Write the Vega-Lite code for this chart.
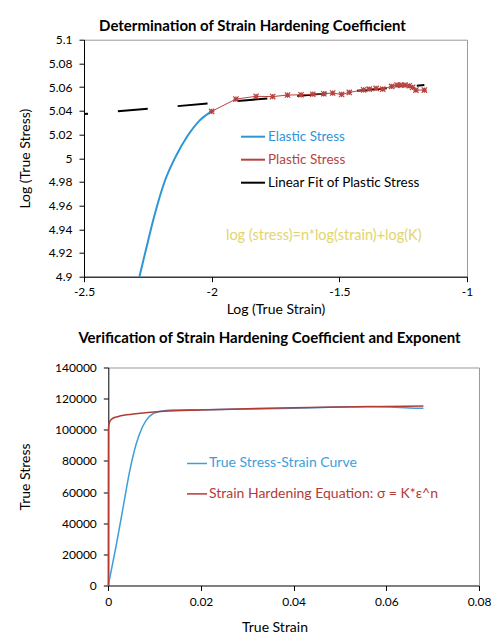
{
  "$schema": "https://vega.github.io/schema/vega-lite/v6.json",
  "background": "white",
  "padding": {"left": 17, "top": 17.7, "right": 0, "bottom": 0},
  "spacing": 13.8,
  "resolve": {"scale": {"color": "independent"}, "legend": {"color": "independent"}},
  "config": {
    "font": "Lato",
    "view": {"stroke": "#9a9a9a", "strokeWidth": 1},
    "axis": {"grid": false, "domainColor": "#000", "tickColor": "#000", "tickSize": 5, "labelFontSize": 12, "titleFontSize": 14, "titleFontWeight": "normal", "labelColor": "#000", "titleColor": "#000", "labelFont": "Lato", "titleFont": "Lato", "labelOverlap": false, "labelFlush": false},
    "title": {"font": "Lato", "fontSize": 15, "fontWeight": "bold", "color": "#000"}
  },
  "datasets": {
    "elastic": [
      {"x": -2.283, "y": 4.9, "series": "Elastic Stress"},
      {"x": -2.2572, "y": 4.923, "series": "Elastic Stress"},
      {"x": -2.2247, "y": 4.9512, "series": "Elastic Stress"},
      {"x": -2.1855, "y": 4.9795, "series": "Elastic Stress"},
      {"x": -2.1397, "y": 5.0019, "series": "Elastic Stress"},
      {"x": -2.094, "y": 5.0189, "series": "Elastic Stress"},
      {"x": -2.0485, "y": 5.0315, "series": "Elastic Stress"},
      {"x": -2.0, "y": 5.0395, "series": "Elastic Stress"}
    ],
    "plastic": [
      {"x": -2.0, "y": 5.0395, "series": "Plastic Stress"},
      {"x": -1.905, "y": 5.0499, "series": "Plastic Stress"},
      {"x": -1.826, "y": 5.0522, "series": "Plastic Stress"},
      {"x": -1.761, "y": 5.052, "series": "Plastic Stress"},
      {"x": -1.703, "y": 5.0533, "series": "Plastic Stress"},
      {"x": -1.65, "y": 5.0535, "series": "Plastic Stress"},
      {"x": -1.604, "y": 5.054, "series": "Plastic Stress"},
      {"x": -1.561, "y": 5.0544, "series": "Plastic Stress"},
      {"x": -1.526, "y": 5.055, "series": "Plastic Stress"},
      {"x": -1.491, "y": 5.0538, "series": "Plastic Stress"},
      {"x": -1.461, "y": 5.0555, "series": "Plastic Stress"},
      {"x": -1.405, "y": 5.0577, "series": "Plastic Stress"},
      {"x": -1.383, "y": 5.0583, "series": "Plastic Stress"},
      {"x": -1.356, "y": 5.0589, "series": "Plastic Stress"},
      {"x": -1.33, "y": 5.0583, "series": "Plastic Stress"},
      {"x": -1.295, "y": 5.0606, "series": "Plastic Stress"},
      {"x": -1.274, "y": 5.0617, "series": "Plastic Stress"},
      {"x": -1.259, "y": 5.0617, "series": "Plastic Stress"},
      {"x": -1.243, "y": 5.0617, "series": "Plastic Stress"},
      {"x": -1.226, "y": 5.0611, "series": "Plastic Stress"},
      {"x": -1.213, "y": 5.0598, "series": "Plastic Stress"},
      {"x": -1.2, "y": 5.0575, "series": "Plastic Stress"},
      {"x": -1.167, "y": 5.0575, "series": "Plastic Stress"}
    ],
    "fit": [
      {"x": -2.5, "y": 5.0372, "series": "Linear Fit of Plastic Stress"},
      {"x": -1.167, "y": 5.0617, "series": "Linear Fit of Plastic Stress"}
    ],
    "note": [
      {"x": -1.561, "y": 4.934, "text": "log (stress)=n*log(strain)+log(K)"}
    ],
    "curve": [
      {"x": 0, "y": 0, "series": "True Stress-Strain Curve"},
      {"x": 0.00166, "y": 25050, "series": "True Stress-Strain Curve"},
      {"x": 0.0031, "y": 48600, "series": "True Stress-Strain Curve"},
      {"x": 0.00453, "y": 72200, "series": "True Stress-Strain Curve"},
      {"x": 0.00597, "y": 90400, "series": "True Stress-Strain Curve"},
      {"x": 0.00741, "y": 102100, "series": "True Stress-Strain Curve"},
      {"x": 0.00884, "y": 108500, "series": "True Stress-Strain Curve"},
      {"x": 0.011, "y": 111800, "series": "True Stress-Strain Curve"},
      {"x": 0.0139, "y": 112700, "series": "True Stress-Strain Curve"},
      {"x": 0.02, "y": 112900, "series": "True Stress-Strain Curve"},
      {"x": 0.03, "y": 113300, "series": "True Stress-Strain Curve"},
      {"x": 0.04, "y": 113900, "series": "True Stress-Strain Curve"},
      {"x": 0.05, "y": 114600, "series": "True Stress-Strain Curve"},
      {"x": 0.056, "y": 115000, "series": "True Stress-Strain Curve"},
      {"x": 0.061, "y": 114700, "series": "True Stress-Strain Curve"},
      {"x": 0.065, "y": 114000, "series": "True Stress-Strain Curve"},
      {"x": 0.068, "y": 113800, "series": "True Stress-Strain Curve"}
    ],
    "equation": [
      {"x": 0, "y": 0, "series": "Strain Hardening Equation: σ = K*ε^n"},
      {"x": 0.00003, "y": 100000, "series": "Strain Hardening Equation: σ = K*ε^n"},
      {"x": 0.0001, "y": 102600, "series": "Strain Hardening Equation: σ = K*ε^n"},
      {"x": 0.0003, "y": 105000, "series": "Strain Hardening Equation: σ = K*ε^n"},
      {"x": 0.0006, "y": 106500, "series": "Strain Hardening Equation: σ = K*ε^n"},
      {"x": 0.001, "y": 107400, "series": "Strain Hardening Equation: σ = K*ε^n"},
      {"x": 0.002, "y": 108400, "series": "Strain Hardening Equation: σ = K*ε^n"},
      {"x": 0.004, "y": 109600, "series": "Strain Hardening Equation: σ = K*ε^n"},
      {"x": 0.008, "y": 111000, "series": "Strain Hardening Equation: σ = K*ε^n"},
      {"x": 0.012, "y": 111900, "series": "Strain Hardening Equation: σ = K*ε^n"},
      {"x": 0.02, "y": 112700, "series": "Strain Hardening Equation: σ = K*ε^n"},
      {"x": 0.03, "y": 113500, "series": "Strain Hardening Equation: σ = K*ε^n"},
      {"x": 0.04, "y": 114100, "series": "Strain Hardening Equation: σ = K*ε^n"},
      {"x": 0.05, "y": 114600, "series": "Strain Hardening Equation: σ = K*ε^n"},
      {"x": 0.06, "y": 114990, "series": "Strain Hardening Equation: σ = K*ε^n"},
      {"x": 0.068, "y": 115260, "series": "Strain Hardening Equation: σ = K*ε^n"}
    ]
  },
  "vconcat": [
    {
      "width": 383,
      "height": 237,
      "title": {"text": "Determination of Strain Hardening Coefficient", "anchor": "middle", "frame": "group", "dx": -23, "offset": 0},
      "layer": [
        {
          "data": {"name": "fit"},
          "mark": {"type": "line", "strokeWidth": 2, "strokeDash": [30, 30], "strokeDashOffset": 26},
          "encoding": {
            "x": {"field": "x", "type": "quantitative", "scale": {"domain": [-2.5, -1], "nice": false}, "axis": {"values": [-2.5, -2, -1.5, -1], "tickCount": 4, "format": "~f", "labelExpr": "replace(datum.label, '−', '-')", "title": "Log (True Strain)", "labelPadding": 5, "titlePadding": 5, "labelOverlap": false, "labelFlush": false}},
            "y": {"field": "y", "type": "quantitative", "scale": {"domain": [4.9, 5.1], "nice": false, "zero": false}, "axis": {"values": [4.9, 4.92, 4.94, 4.96, 4.98, 5, 5.02, 5.04, 5.06, 5.08, 5.1], "tickCount": 11, "format": "~f", "title": "Log (True Stress)", "labelPadding": 7, "titlePadding": 16, "labelOverlap": false, "labelFlush": false}},
            "color": {"field": "series", "type": "nominal",
              "scale": {"domain": ["Elastic Stress", "Plastic Stress", "Linear Fit of Plastic Stress"], "range": ["#2f95d5", "#b7433e", "#000000"]},
              "legend": {"title": null, "orient": "none", "legendX": 156, "legendY": 84, "symbolType": "stroke", "symbolSize": 576, "symbolStrokeWidth": 2, "rowPadding": 3, "labelOffset": 2, "labelFontSize": 13.5, "labelFont": "Lato", "labelLimit": 400,
                "encode": {"labels": {"update": {"fill": {"signal": "datum.label === 'Elastic Stress' ? '#2f95d5' : datum.label === 'Plastic Stress' ? '#b7433e' : '#000000'"}}}}}}
          }
        },
        {
          "data": {"name": "elastic"},
          "mark": {"type": "line", "strokeWidth": 2, "interpolate": "monotone"},
          "encoding": {
            "x": {"field": "x", "type": "quantitative"},
            "y": {"field": "y", "type": "quantitative"},
            "color": {"field": "series", "type": "nominal"}
          }
        },
        {
          "data": {"name": "plastic"},
          "mark": {"type": "line", "strokeWidth": 1},
          "encoding": {
            "x": {"field": "x", "type": "quantitative"},
            "y": {"field": "y", "type": "quantitative"},
            "color": {"field": "series", "type": "nominal"}
          }
        },
        {
          "data": {"name": "plastic"},
          "mark": {"type": "point", "shape": "M-1,-1L1,1M1,-1L-1,1M0,-1L0,1M-1,0L1,0", "filled": false, "size": 28, "strokeWidth": 1.2, "opacity": 1},
          "encoding": {
            "x": {"field": "x", "type": "quantitative"},
            "y": {"field": "y", "type": "quantitative"},
            "color": {"field": "series", "type": "nominal"}
          }
        },
        {
          "data": {"name": "note"},
          "mark": {"type": "text", "fontSize": 14.5, "font": "Lato", "color": "#e3d46c"},
          "encoding": {
            "x": {"field": "x", "type": "quantitative"},
            "y": {"field": "y", "type": "quantitative"},
            "text": {"field": "text"}
          }
        }
      ]
    },
    {
      "width": 395,
      "height": 218,
      "view": {"stroke": null},
      "title": {"text": "Verification of Strain Hardening Coefficient and Exponent", "anchor": "middle", "frame": "group", "dx": -12, "offset": 15},
      "resolve": {"axis": {"x": "independent", "y": "independent"}},
      "layer": [
        {
          "data": {"name": "curve"},
          "mark": {"type": "line", "strokeWidth": 1.5, "interpolate": "monotone"},
          "encoding": {
            "x": {"field": "x", "type": "quantitative", "scale": {"domain": [0, 0.08], "nice": false, "range": [24.3, 395]}, "axis": {"values": [0, 0.02, 0.04, 0.06, 0.08], "tickCount": 5, "format": "~f", "title": "True Strain", "titleX": 190.5, "labelPadding": 6, "titlePadding": 13, "labelOverlap": false, "labelFlush": false}},
            "y": {"field": "y", "type": "quantitative", "scale": {"domain": [0, 140000], "nice": false}, "axis": {"values": [0, 20000, 40000, 60000, 80000, 100000, 120000, 140000], "tickCount": 8, "format": "d", "title": "True Stress", "offset": -24.3, "labelPadding": 7, "titlePadding": 22, "labelOverlap": false, "labelFlush": false}},
            "color": {"field": "series", "type": "nominal",
              "scale": {"domain": ["True Stress-Strain Curve", "Strain Hardening Equation: σ = K*ε^n"], "range": ["#3c9edb", "#b23b36"]},
              "legend": {"title": null, "orient": "none", "legendX": 102, "legendY": 85, "symbolType": "stroke", "symbolSize": 400, "symbolStrokeWidth": 1.5, "rowPadding": 12.4, "labelOffset": 1, "labelFontSize": 14, "labelFont": "Lato", "labelLimit": 400,
                "encode": {"labels": {"update": {"fill": {"signal": "datum.label === 'True Stress-Strain Curve' ? '#3c9edb' : '#b23b36'"}}}}}}
          }
        },
        {
          "data": {"name": "equation"},
          "mark": {"type": "line", "strokeWidth": 1.5, "interpolate": "monotone"},
          "encoding": {
            "x": {"field": "x", "type": "quantitative", "axis": {"orient": "top", "labels": false, "ticks": false, "title": null, "domainColor": "#9a9a9a"}},
            "y": {"field": "y", "type": "quantitative", "axis": {"orient": "right", "labels": false, "ticks": false, "title": null, "domainColor": "#9a9a9a"}},
            "color": {"field": "series", "type": "nominal"}
          }
        }
      ]
    }
  ]
}
